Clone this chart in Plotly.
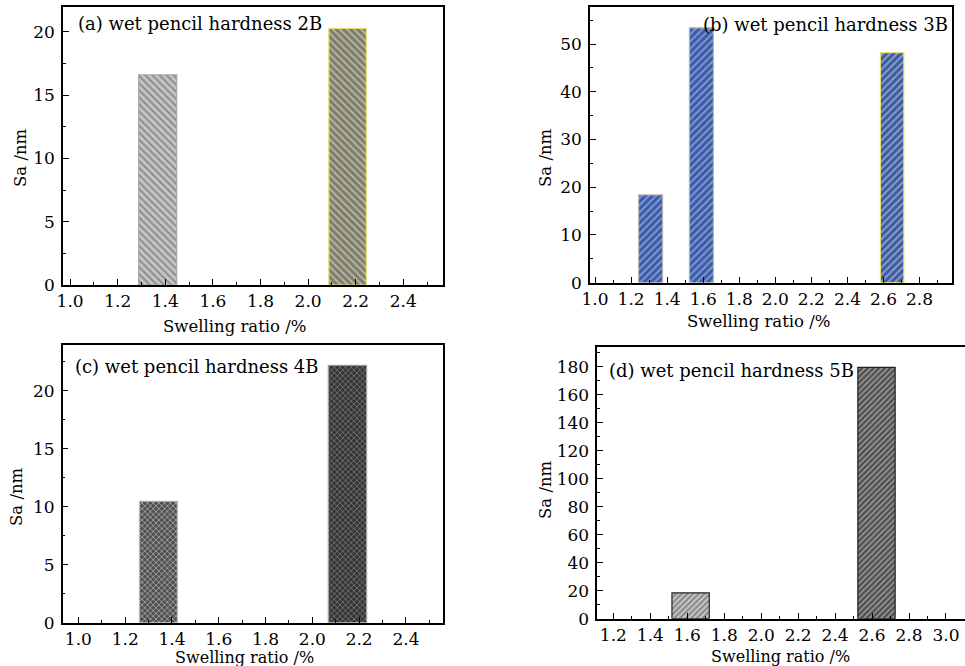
import plotly.graph_objects as go

W, H = 965, 666
FONT = "DejaVu Serif"

# ---- data ----
a_x = [1.368, 2.166]
a_y = [16.6, 20.26]
b_x = [1.308, 1.590, 2.648]
b_y = [18.4, 53.4, 48.2]
c_x = [1.342, 2.150]
c_y = [10.47, 22.2]
d_x = [1.618, 2.624]
d_y = [18.4, 179.6]

titles = ["(a) wet pencil hardness 2B", "(b) wet pencil hardness 3B",
          "(c) wet pencil hardness 4B", "(d) wet pencil hardness 5B"]
x_title = "Swelling ratio /%"
y_title = "Sa /nm"

fig = go.Figure()

def px_x(p):
    return p / W

def px_y(p):
    return 1 - p / H

# panel geometry (pixels): left, right, top, bottom
panels = {
    "a": dict(l=63, r=443, t=7, b=285, xr=[0.97, 2.567], yr=[0, 21.95],
              xt=[1.0, 1.2, 1.4, 1.6, 1.8, 2.0, 2.2, 2.4], ydt=5),
    "b": dict(l=590, r=952, t=7.3, b=282.7, xr=[0.972, 2.98], yr=[0, 57.7],
              xt=[1.0, 1.2, 1.4, 1.6, 1.8, 2.0, 2.2, 2.4, 2.6, 2.8], ydt=10),
    "c": dict(l=62.7, r=442.7, t=344.7, b=622.7, xr=[0.933, 2.557], yr=[0, 23.97],
              xt=[1.0, 1.2, 1.4, 1.6, 1.8, 2.0, 2.2, 2.4], ydt=5),
    "d": dict(l=597.3, r=965, t=347.3, b=618.7, xr=[1.113, 3.103], yr=[0, 193.9],
              xt=[1.2, 1.4, 1.6, 1.8, 2.0, 2.2, 2.4, 2.6, 2.8, 3.0], ydt=20),
}

layout = dict(width=W, height=H, margin=dict(l=0, r=0, t=0, b=0, autoexpand=False),
              template="none",
              paper_bgcolor="white", plot_bgcolor="white", showlegend=False,
              font=dict(family=FONT, size=16, color="black"))

for i, key in enumerate(["a", "b", "c", "d"]):
    p = panels[key]
    n = "" if i == 0 else str(i + 1)
    layout["xaxis" + n] = dict(
        domain=[px_x(p["l"]), min(1.0, px_x(p["r"]))], range=p["xr"],
        anchor="y" + n, showline=True, linecolor="black", linewidth=1.5,
        mirror=True, showgrid=False, zeroline=False, automargin=False,
        tickmode="array", tickvals=p["xt"], ticktext=["%.1f" % v for v in p["xt"]],
        ticks="inside", ticklen=6, tickwidth=1.2, tickcolor="black",
        ticklabelstandoff=0,
        minor=dict(tickmode="array",
                   tickvals=[round(v + 0.1, 2) for v in [p["xt"][0] - 0.2] + p["xt"]],
                   ticks="inside", ticklen=3, tickwidth=1, tickcolor="black",
                   showgrid=False),
        tickfont=dict(family=FONT, size=17))
    layout["yaxis" + n] = dict(
        domain=[px_y(p["b"]), px_y(p["t"])], range=p["yr"], anchor="x" + n,
        showline=True, linecolor="black", linewidth=1.5, mirror=True,
        showgrid=False, zeroline=False, automargin=False, tick0=0, dtick=p["ydt"],
        ticks="inside", ticklen=6, tickwidth=1.2, tickcolor="black",
        ticklabelstandoff=3,
        minor=dict(dtick=p["ydt"] / 2, ticks="inside", ticklen=3, tickwidth=1,
                   tickcolor="black", showgrid=False),
        tickfont=dict(family=FONT, size=17))

fig.update_layout(**layout)

def add_bar(x, y, width, bg, fg, shape, line, xa, ya, size=5, sol=0.4):
    fig.add_trace(go.Bar(
        x=[x], y=[y], width=[width], xaxis=xa, yaxis=ya, hoverinfo="skip",
        marker=dict(color=bg, line=dict(color=line, width=1.2),
                    pattern=dict(shape=shape, bgcolor=bg, fgcolor=fg,
                                 size=size, solidity=sol, fillmode="replace"))))

# (a)
add_bar(a_x[0], a_y[0], 0.16, "#c4c4c4", "#8c8c8c", "\\", "#a8a8a8", "x", "y")
add_bar(a_x[1], a_y[1], 0.158, "#7c7c72", "#b8b898", "\\", "#e6e27a", "x", "y")
# (b)
add_bar(b_x[0], b_y[0], 0.133, "#3b5ba6", "#7d9ad0", "/", "#b4b4b4", "x2", "y2")
add_bar(b_x[1], b_y[1], 0.133, "#3b5ba6", "#7d9ad0", "/", "#b4b4b4", "x2", "y2")
add_bar(b_x[2], b_y[2], 0.130, "#3b5ba6", "#8fa0b8", "/", "#e6e27a", "x2", "y2")
# (c)
add_bar(c_x[0], c_y[0], 0.162, "#505050", "#b0b0b0", "x", "#b8b8b8", "x3", "y3", size=4, sol=0.35)
add_bar(c_x[1], c_y[1], 0.164, "#353535", "#7a7a7a", "x", "#a8a8a8", "x3", "y3", size=4, sol=0.35)
# (d)
add_bar(d_x[0], d_y[0], 0.202, "#8a8a8a", "#d0d0d0", "/", "#222222", "x4", "y4", size=4, sol=0.4)
add_bar(d_x[1], d_y[1], 0.202, "#4e4e4e", "#9a9a9a", "/", "#222222", "x4", "y4", size=4, sol=0.4)

ann = []
# panel titles
ann.append(dict(text=titles[0], x=px_x(76), y=px_y(24), xanchor="left", yanchor="middle"))
ann.append(dict(text=titles[1], x=px_x(950), y=px_y(25), xanchor="right", yanchor="middle"))
ann.append(dict(text=titles[2], x=px_x(73), y=px_y(366.7), xanchor="left", yanchor="middle"))
ann.append(dict(text=titles[3], x=px_x(607), y=px_y(370), xanchor="left", yanchor="middle"))
for a in ann:
    a.update(xref="paper", yref="paper", showarrow=False,
             font=dict(family=FONT, size=18, color="black"))

axis_ann = [
    (x_title, 235, 326, 0, 16.5), (x_title, 759, 321, 0, 16.5),
    (x_title, 244, 657, 0, 16), (x_title, 780, 656, 0, 16),
    (y_title, 20, 158, -90, 16.5), (y_title, 545, 158, -90, 16.5),
    (y_title, 16, 497, -90, 16.5), (y_title, 545, 490, -90, 16.5),
]
for t, xx, yy, rot, fs in axis_ann:
    ann.append(dict(text=t, x=px_x(xx), y=px_y(yy), xref="paper", yref="paper",
                    showarrow=False, textangle=rot, xanchor="center", yanchor="middle",
                    font=dict(family=FONT, size=fs, color="black")))

fig.update_layout(annotations=ann)
fig.write_html("out.html", config={"displayModeBar": False},
               post_script="document.body.style.margin='0';document.body.style.overflow='hidden';")
